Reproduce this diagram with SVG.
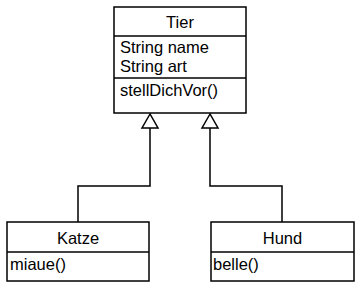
<svg xmlns="http://www.w3.org/2000/svg" width="360" height="286" viewBox="0 0 360 286">
<style>
.box{fill:#fff;stroke:#000;stroke-width:1.5}
.ln{stroke:#000;stroke-width:1.5;fill:none}
text{font-family:"Liberation Sans",Arial,sans-serif;font-size:16.5px;fill:#000}
.c{text-anchor:middle}
</style>
<rect width="360" height="286" fill="#fff"/>
<g id="connectors">
<polyline class="ln" points="78,222 78,186 150,186 150,128"/>
<polygon class="ln" points="150,114 142,128 158,128" fill="#fff"/>
<polyline class="ln" points="282,222 282,186 210,186 210,128"/>
<polygon class="ln" points="210,114 202,128 218,128" fill="#fff"/>
</g>
<g id="Tier">
<rect class="box" x="114" y="7" width="132" height="106"/>
<line class="ln" x1="114" y1="36" x2="246" y2="36"/>
<line class="ln" x1="114" y1="78" x2="246" y2="78"/>
<text class="c" x="180" y="28">Tier</text>
<text x="120" y="53">String name</text>
<text x="120" y="72">String art</text>
<text x="120" y="96">stellDichVor()</text>
</g>
<g id="Katze">
<rect class="box" x="7" y="222" width="142" height="59"/>
<line class="ln" x1="7" y1="252" x2="149" y2="252"/>
<text class="c" x="78" y="244">Katze</text>
<text x="10" y="270">miaue()</text>
</g>
<g id="Hund">
<rect class="box" x="211" y="222" width="143" height="59"/>
<line class="ln" x1="211" y1="252" x2="354" y2="252"/>
<text class="c" x="282.5" y="244">Hund</text>
<text x="213" y="270">belle()</text>
</g>
</svg>
